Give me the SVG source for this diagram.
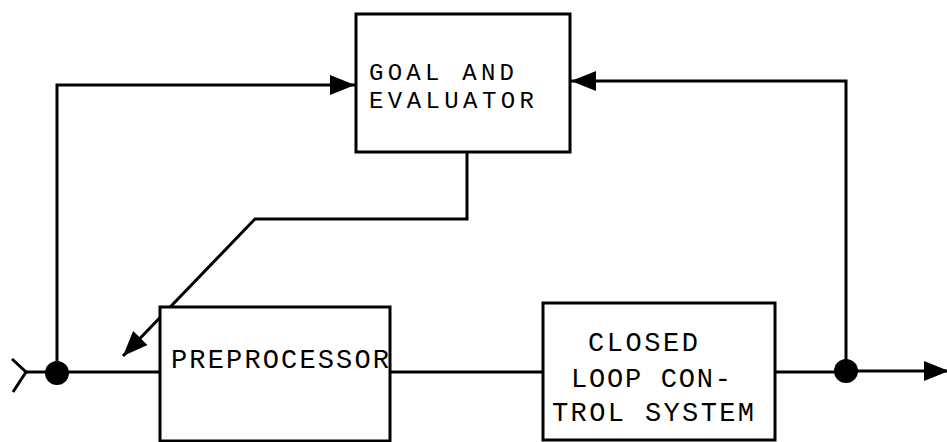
<svg xmlns="http://www.w3.org/2000/svg" width="947" height="442" viewBox="0 0 947 442">
  <style>
    .box { fill: #fff; stroke: #000; stroke-width: 3; }
    .wire { fill: none; stroke: #000; stroke-width: 3; stroke-linejoin: miter; }
    .dot { fill: #000; }
    .lbl { font-family: "Liberation Mono", "DejaVu Sans Mono", monospace; font-size: 27px; fill: #000; }
    .tight { font-size: 24px; }
  </style>
  <defs>
    <marker id="head" markerUnits="userSpaceOnUse" markerWidth="28" markerHeight="24" refX="25" refY="12" orient="auto">
      <path d="M0,2 L25,12 L0,22 Z" fill="#000"/>
    </marker>
  </defs>

  <g id="connectors">
    <!-- input stub and main forward path -->
    <path class="wire" d="M12,359 L26,372 L13,392"/>
    <path class="wire" d="M26,372 H160"/>
    <path class="wire" d="M390,372 H543"/>
    <path class="wire" d="M775,372 H846"/>
    <path class="wire" d="M846,371 H949" marker-end="url(#head)"/>
    <!-- input fed forward to the goal evaluator -->
    <path class="wire" d="M57,372 V85 H355" marker-end="url(#head)"/>
    <!-- output fed back to the goal evaluator -->
    <path class="wire" d="M846,372 V81 H571" marker-end="url(#head)"/>
    <!-- evaluator adjusts the preprocessor -->
    <path class="wire" d="M467,152 V219 H255 L123,356" marker-end="url(#head)"/>
  </g>

  <g id="junction-in"><circle class="dot" cx="57" cy="373" r="12"/></g>
  <g id="junction-out"><circle class="dot" cx="846" cy="371" r="12"/></g>

  <g id="goal-evaluator">
    <rect class="box" x="356" y="14" width="214" height="138"/>
    <text class="lbl tight" x="369" y="80" textLength="145" lengthAdjust="spacing">GOAL AND</text>
    <text class="lbl tight" x="369" y="108" textLength="165" lengthAdjust="spacing">EVALUATOR</text>
  </g>

  <g id="preprocessor">
    <rect class="box" x="160" y="307" width="230" height="134"/>
    <text class="lbl" x="171" y="368" textLength="218" lengthAdjust="spacing">PREPROCESSOR</text>
  </g>

  <g id="closed-loop">
    <rect class="box" x="543" y="303" width="232" height="137"/>
    <text class="lbl" x="588" y="351" textLength="110" lengthAdjust="spacing">CLOSED</text>
    <text class="lbl" x="571" y="387" textLength="160" lengthAdjust="spacing">LOOP CON-</text>
    <text class="lbl" x="552" y="421" textLength="202" lengthAdjust="spacing">TROL SYSTEM</text>
  </g>
</svg>
